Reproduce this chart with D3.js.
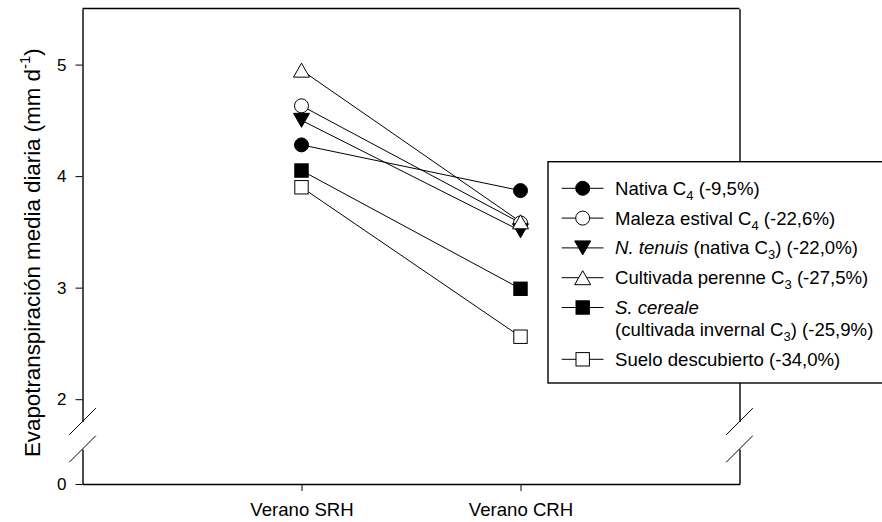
<!DOCTYPE html>
<html><head><meta charset="utf-8">
<script src="https://cdn.jsdelivr.net/npm/d3@7"></script>
<style>
body{margin:0;background:#fff}
svg{display:block;font-family:Arial,"Liberation Sans",sans-serif}
</style>
</head><body>
<svg id="chart" width="882" height="522"></svg>
<script>
// ---- data ----
const periods = ["Verano SRH", "Verano CRH"];
const nativaC4 = [4.28, 3.87];
const malezaEstivalC4 = [4.63, 3.58];
const nTenuis = [4.50, 3.51];
const cultivadaPerenneC3 = [4.95, 3.59];
const sCereale = [4.05, 2.99];
const sueloDescubierto = [3.90, 2.56];
const yTicksUpper = [2, 3, 4, 5];
const yTicksLower = [0];
const markerTypes = ["circleFilled", "circleOpen", "triDownFilled", "triUpOpen", "squareFilled", "squareOpen"];
const legendLabels = [
  [[{t: "Nativa C"}, {t: "4", sub: true}, {t: " (-9,5%)"}]],
  [[{t: "Maleza estival C"}, {t: "4", sub: true}, {t: " (-22,6%)"}]],
  [[{t: "N. tenuis", it: true}, {t: " (nativa C"}, {t: "3", sub: true}, {t: ") (-22,0%)"}]],
  [[{t: "Cultivada perenne C"}, {t: "3", sub: true}, {t: " (-27,5%)"}]],
  [[{t: "S. cereale", it: true}], [{t: "(cultivada invernal C"}, {t: "3", sub: true}, {t: ") (-25,9%)"}]],
  [[{t: "Suelo descubierto (-34,0%)"}]]
];
const seriesValues = [nativaC4, malezaEstivalC4, nTenuis, cultivadaPerenneC3, sCereale, sueloDescubierto];

// ---- layout ----
const svg = d3.select("#chart");
const L = 82.5, R = 739.5, TOP = 8.5, BOT = 484;
const breakUpper = 421.5, breakLower = 449;

const x = d3.scalePoint().domain(periods).range([L, R]).padding(1);
const yUp = d3.scaleLinear().domain([1.8, 5.5]).range([breakUpper, TOP + 0.3]);
const yLo = d3.scaleLinear().domain([0, 0.3]).range([BOT, breakLower]);

const g = svg.append("g");

// frame: top line
g.append("line").attr("x1", L).attr("x2", R).attr("y1", TOP).attr("y2", TOP)
  .attr("stroke", "#000").attr("stroke-width", 1.4);

function styleAxis(sel) {
  sel.select(".domain").attr("stroke", "#000").attr("stroke-width", 1.4);
  sel.selectAll(".tick line").attr("stroke", "#000").attr("stroke-width", 1);
  sel.selectAll(".tick text").attr("fill", "#000").attr("font-family", "Arial, 'Liberation Sans', sans-serif");
}

// left axis upper & lower
const la1 = g.append("g").attr("transform", `translate(${L},0)`)
  .call(d3.axisLeft(yUp).tickValues(yTicksUpper).tickFormat(d3.format("d")).tickSize(7).tickSizeOuter(0).tickPadding(9));
la1.selectAll(".tick text").attr("font-size", 17);
styleAxis(la1);
const la2 = g.append("g").attr("transform", `translate(${L},0)`)
  .call(d3.axisLeft(yLo).tickValues(yTicksLower).tickFormat(d3.format("d")).tickSize(7).tickSizeOuter(0).tickPadding(9));
la2.selectAll(".tick text").attr("font-size", 17);
styleAxis(la2);

// right axis upper & lower
[yUp, yLo].forEach(s => {
  const ra = g.append("g").attr("transform", `translate(${R},0)`)
    .call(d3.axisRight(s).tickValues([]).tickSizeOuter(0));
  styleAxis(ra);
});

// bottom axis
const ba = g.append("g").attr("transform", `translate(0,${BOT})`)
  .call(d3.axisBottom(x).tickSize(7).tickSizeOuter(0).tickPadding(12));
ba.selectAll(".tick text").attr("font-size", 18.6);
styleAxis(ba);

// break marks
[L, R].forEach(ax => {
  [breakUpper, breakLower].forEach(yy => {
    g.append("line")
      .attr("x1", ax - 13.3).attr("y1", yy + 13.3)
      .attr("x2", ax + 13.3).attr("y2", yy - 13.3)
      .attr("stroke", "#000").attr("stroke-width", 1);
  });
});

// y axis title
const yt = g.append("text")
  .attr("transform", "translate(39.5,457) rotate(-90)")
  .attr("font-size", 22.3).attr("fill", "#000");
yt.append("tspan").text("Evapotranspiración media diaria (mm d");
yt.append("tspan").attr("font-size", 15).attr("dy", -10).text("-1");
yt.append("tspan").attr("dy", 10).text(")");

// markers
function drawMarker(sel, type) {
  const filled = type.endsWith("Filled");
  const fill = filled ? "#000" : "#fff";
  let el;
  if (type.startsWith("circle")) {
    el = sel.append("circle").attr("r", 7);
  } else if (type.startsWith("square")) {
    el = sel.append("rect").attr("x", -6.7).attr("y", -6.7).attr("width", 13.4).attr("height", 13.4);
  } else if (type.startsWith("triUp")) {
    el = sel.append("path").attr("d", "M0,-7L8,7L-8,7Z");
  } else {
    el = sel.append("path").attr("d", "M0,7L8,-7L-8,-7Z");
  }
  el.attr("fill", fill).attr("stroke", "#000").attr("stroke-width", 1);
}

const line = d3.line().x((d, i) => x(periods[i])).y(d => yUp(d));
seriesValues.forEach(vals => {
  g.append("path").datum(vals).attr("d", line)
    .attr("fill", "none").attr("stroke", "#000").attr("stroke-width", 1);
});
seriesValues.forEach((vals, si) => {
  vals.forEach((v, i) => {
    const m = g.append("g").attr("transform", `translate(${x(periods[i])},${yUp(v)})`);
    drawMarker(m, markerTypes[si]);
  });
});

// legend
const lg = g.append("g");
lg.append("rect").attr("x", 548).attr("y", 161.7).attr("width", 340).attr("height", 221.3)
  .attr("fill", "#fff").attr("stroke", "#000").attr("stroke-width", 1.4);
let rowY = 188.3;
legendLabels.forEach((lines, li) => {
  const row = lg.append("g").attr("transform", `translate(0,${rowY})`);
  row.append("line").attr("x1", 561.7).attr("x2", 603.5).attr("y1", 0).attr("y2", 0)
    .attr("stroke", "#000").attr("stroke-width", 1);
  const mk = row.append("g").attr("transform", "translate(582.7,0)");
  drawMarker(mk, markerTypes[li]);
  lines.forEach((parts, k) => {
    const t = row.append("text").attr("x", 615).attr("y", k * 22).attr("dy", "0.35em")
      .attr("font-size", 18.6).attr("fill", "#000");
    let shifted = false;
    parts.forEach(p => {
      const ts = t.append("tspan").text(p.t);
      if (p.it) ts.attr("font-style", "italic");
      if (p.sub) { ts.attr("font-size", 13).attr("dy", 5); shifted = true; }
      else if (shifted) { ts.attr("dy", -5); shifted = false; }
    });
  });
  rowY += 29.8 + (lines.length - 1) * 22;
});
</script>
</body></html>
